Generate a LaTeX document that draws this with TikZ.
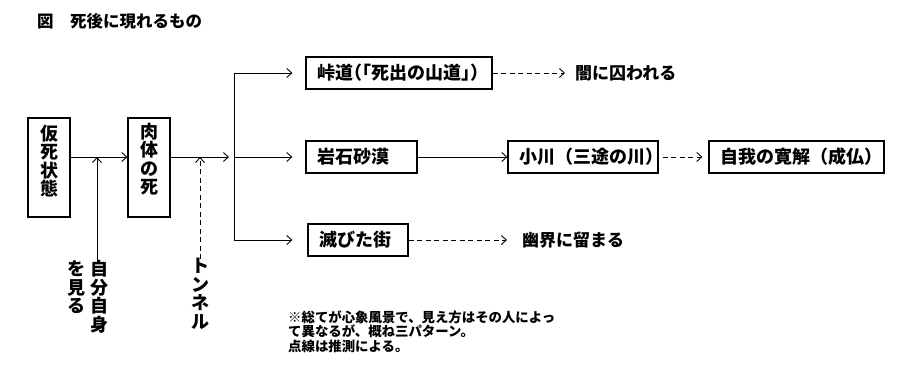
\documentclass[tikz,border=0pt]{standalone}
\usepackage{fontspec}
\setmainfont{Noto Sans CJK JP}
\usetikzlibrary{arrows.meta}
\begin{document}
\begin{tikzpicture}[x=1pt,y=-1pt,
  font=\bfseries,
  ln/.style={line width=0.9pt},
  arr/.style={ln, -{Straight Barb[length=5pt,width=9pt]}},
  dsh/.style={dash pattern=on 5pt off 3.5pt},
  vbox/.style={draw, line width=1.2pt, inner sep=0pt, minimum width=42pt, minimum height=99pt},
  vtext/.style={inner sep=0pt, align=center, font=\bfseries\fontsize{18}{18.5}\selectfont},
  hbox/.style={draw, line width=1.2pt, inner ysep=0pt, inner xsep=11pt, minimum height=32pt, text width=#1, align=left, font=\bfseries\fontsize{18}{20}\selectfont},
  otext/.style={inner sep=0pt, anchor=west, font=\bfseries\fontsize{17}{20}\selectfont}
]
\useasboundingbox[fill=white] (0,0) rectangle (916,378);

% title
\node[inner sep=0pt, anchor=base west, font=\bfseries\fontsize{16.5}{18}\selectfont] (title) at (37,27.3) {図　死後に現れるもの};

% main row
\coordinate (r) at (0,157);
\node[vbox] (b1) at (49,167.5) {};
\node[vtext] (b1t) at (49,161) {仮\\死\\状\\態};
\node[vbox] (b2) at (149,167.5) {};
\node[vtext] (b2t) at (149,159) {肉\\体\\の\\死};

\draw[arr] (b1.east |- r) -- (b2.west |- r);
\coordinate (j1) at (229,157);
\draw[arr] (b2.east |- r) -- (j1);

% side labels
\node[vtext] (l1) at (99.5,296.5) {自\\分\\自\\身};
\node[vtext] (l2) at (76,287.5) {を\\見\\る};
\node[vtext] (l3) at (200,294) {ト\\ン\\ネ\\ル};
\coordinate (s1) at (97,262);
\coordinate (s2) at (200,259);
\draw[arr] (s1) -- (s1 |- r);
\draw[arr, dsh] (s2) -- (s2 |- r);

% branches
\node[hbox=164pt] (t1) at (399,73) {\addfontfeature{RawFeature=+halt}峠道（「死出の山道」）};
\node[hbox=89pt] (t2) at (361.5,157) {岩石砂漠};
\node[hbox=78pt] (t3) at (358,240) {滅びた街};
\node[hbox=128pt] (r1) at (583,157) {小川（三途の川）};
\node[hbox=153pt] (r2) at (796.5,157) {自我の寛解（成仏）};

\coordinate (bt) at (234,73);
\coordinate (bm) at (234,157);
\coordinate (bb) at (234,240);
\draw[ln] (bt) -- (bb);
\draw[arr, shorten >=13pt] (bt) -- (t1.west);
\draw[arr, shorten >=13pt] (bm) -- (t2.west);
\draw[arr, shorten >=15pt] (bb) -- (t3.west);

\draw[arr] (t2.east) -- (r1.west);
\draw[arr, dsh, shorten <=4pt, shorten >=6pt] (r1.east) -- (r2.west);

\coordinate (e1) at (565,73);
\coordinate (e3) at (507,240);
\draw[arr, dsh] (t1.east) -- (e1);
\draw[arr, dsh] (t3.east) -- (e3);
\node[otext] (o1) at (575,73) {闇に囚われる};
\node[otext] (o3) at (522,240) {幽界に留まる};

% note
\node[inner sep=0pt, anchor=base west, align=left, font=\bfseries\fontsize{13.4}{14.5}\selectfont] (note) at (288,351) {※総てが心象風景で、見え方はその人によっ\\て異なるが、概ね三パターン。\\点線は推測による。};
\end{tikzpicture}
\end{document}
